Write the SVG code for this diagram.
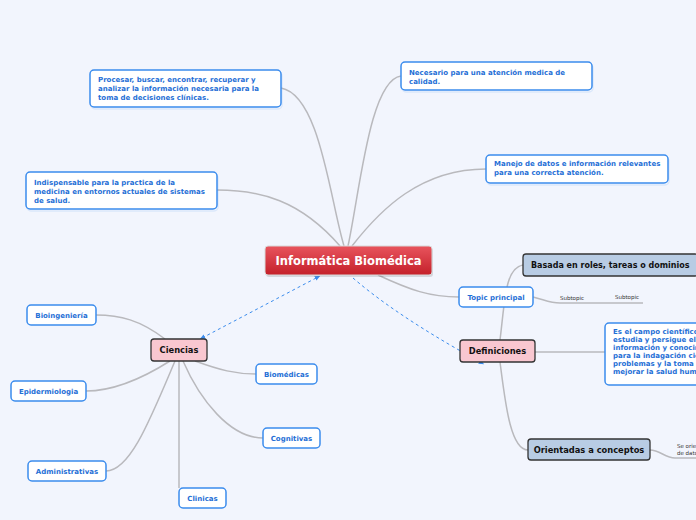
<svg xmlns="http://www.w3.org/2000/svg" width="696" height="520" viewBox="0 0 696 520">
<style>
.bg{fill:#f2f5fd}
.blue rect{fill:#fff;stroke:#3b8ced;stroke-width:1.5}
.blue text{font-family:"DejaVu Sans",Verdana,sans-serif;font-weight:bold;font-size:7px;fill:#1f6fd6}
.dark rect{stroke:#333;stroke-width:1.3}
.dark text{font-family:"DejaVu Sans",Verdana,sans-serif;font-weight:bold;font-size:8.3px;fill:#111}
.pink rect{fill:#f9c7d0}
.lav rect{fill:#b8cce4}
.sh{fill:#000;stroke:none;opacity:0.12}
.conn path{fill:none;stroke:#b9b9bd;stroke-width:1.5}
.dash path{fill:none;stroke:#3b8ced;stroke-width:1;stroke-dasharray:3 3}
.small{font-family:"DejaVu Sans",Verdana,sans-serif;font-size:5.5px;fill:#333}
</style>
<defs>
<linearGradient id="red" x1="0" y1="0" x2="0" y2="1">
<stop offset="0" stop-color="#e8545d"/>
<stop offset="1" stop-color="#c4202a"/>
</linearGradient>
<marker id="arr" viewBox="0 0 10 10" refX="5" refY="5" markerWidth="6" markerHeight="6" orient="auto-start-reverse">
<path d="M0,1 L9,5 L0,9 z" fill="#3b8ced"/>
</marker>
</defs>
<rect class="bg" x="0" y="0" width="696" height="520"/>

<g id="connectors">
<g class="conn">
<path d="M344,246 C330,200 320,95 281,88"/>
<path d="M348,246 C360,190 370,80 401,76"/>
<path d="M340,246 C300,200 260,190 217,190"/>
<path d="M352,246 C380,210 420,169 486,169"/>
<path d="M378,275 C410,290 430,297 459,297"/>
<path d="M533,297 C545,300 550,303 560,303 L643,303"/>
<path d="M500,340 C505,300 505,268 523,265"/>
<path d="M500,362 C505,400 510,450 528,450"/>
<path d="M535,352 C570,352 580,352 605,352"/>
<path d="M650,450 C660,450 665,458 675,458 L696,458"/>
<path d="M165,339 C140,320 120,315 96,315"/>
<path d="M170,361 C140,380 110,391 86,391"/>
<path d="M175,361 C150,420 130,471 106,471"/>
<path d="M179,361 L179,488"/>
<path d="M183,361 C200,400 230,438 263,438"/>
<path d="M195,361 C220,370 235,374 256,374"/>
</g>
<g class="dash">
<path d="M202,338 L318,277" marker-start="url(#arr)" marker-end="url(#arr)"/>
<path d="M353,278 C390,310 440,340 482,363" marker-end="url(#arr)"/>
</g>
</g>

<g id="central">
<rect x="266" y="248" width="167" height="29" rx="3" class="sh"/>
<rect x="265" y="246" width="167" height="29" rx="3" fill="url(#red)" stroke="#d8d8d8" stroke-width="1"/>
<text x="348.5" y="265" text-anchor="middle" font-family="DejaVu Sans,Verdana,sans-serif" font-weight="bold" font-size="11.5" fill="#fff">Informática Biomédica</text>
</g>

<g id="procesar" class="blue">
<rect x="91" y="72" width="191" height="37" rx="4" class="sh"/>
<rect x="90" y="70" width="191" height="37" rx="4"/>
<text x="98" y="82">Procesar, buscar, encontrar, recuperar y</text>
<text x="98" y="91">analizar la información necesaria para la</text>
<text x="98" y="100">toma de decisiones clínicas.</text>
</g>

<g id="necesario" class="blue">
<rect x="402" y="64" width="191" height="28" rx="4" class="sh"/>
<rect x="401" y="62" width="191" height="28" rx="4"/>
<text x="409" y="74.5">Necesario para una atención medica de</text>
<text x="409" y="83.5">calidad.</text>
</g>

<g id="indispensable" class="blue">
<rect x="27" y="174" width="191" height="37" rx="4" class="sh"/>
<rect x="26" y="172" width="191" height="37" rx="4"/>
<text x="34" y="184.5">Indispensable para la practica de la</text>
<text x="34" y="193.5">medicina en entornos actuales de sistemas</text>
<text x="34" y="202.5">de salud.</text>
</g>

<g id="manejo" class="blue">
<rect x="487" y="157" width="182" height="28" rx="4" class="sh"/>
<rect x="486" y="155" width="182" height="28" rx="4"/>
<text x="494" y="166">Manejo de datos e información relevantes</text>
<text x="494" y="175">para una correcta atención.</text>
</g>

<g id="topic" class="blue">
<rect x="459" y="287" width="74" height="20" rx="4"/>
<text x="496" y="300" text-anchor="middle">Topic principal</text>
</g>

<g id="subtopics">
<text class="small" x="560" y="300">Subtopic</text>
<text class="small" x="615" y="299">Subtopic</text>
</g>

<g id="basada" class="dark lav">
<rect x="523" y="254" width="175" height="22" rx="3"/>
<text x="531" y="268" style="font-size:8px">Basada en roles, tareas o dominios</text>
</g>

<g id="definiciones" class="dark pink">
<rect x="460" y="340" width="75" height="22" rx="3"/>
<text x="497.5" y="354" text-anchor="middle">Definiciones</text>
</g>

<g id="campo" class="blue">
<rect x="605" y="323" width="100" height="62" rx="4"/>
<text x="613" y="334">Es el campo científico que</text>
<text x="613" y="342">estudia y persigue el uso de</text>
<text x="613" y="350">información y conocimiento</text>
<text x="613" y="358">para la indagación científica,</text>
<text x="613" y="366">problemas y la toma de decisiones</text>
<text x="613" y="374">mejorar la salud humana.</text>
</g>

<g id="orientadas" class="dark lav">
<rect x="528" y="439" width="122" height="21" rx="3"/>
<text x="589" y="452.5" text-anchor="middle">Orientadas a conceptos</text>
</g>

<g id="seori">
<text class="small" x="677" y="448">Se orientan</text>
<text class="small" x="677" y="455">de datos</text>
</g>

<g id="ciencias" class="dark pink">
<rect x="151" y="339" width="56" height="22" rx="3"/>
<text x="179" y="353" text-anchor="middle">Ciencias</text>
</g>

<g id="bioingenieria" class="blue">
<rect x="27" y="305" width="69" height="20" rx="4"/>
<text x="61.5" y="318" text-anchor="middle">Bioingeniería</text>
</g>

<g id="epidermiologia" class="blue">
<rect x="11" y="381" width="75" height="20" rx="4"/>
<text x="48.5" y="394" text-anchor="middle">Epidermiologia</text>
</g>

<g id="administrativas" class="blue">
<rect x="28" y="461" width="78" height="20" rx="4"/>
<text x="67" y="474" text-anchor="middle">Administrativas</text>
</g>

<g id="clinicas" class="blue">
<rect x="179" y="488" width="47" height="20" rx="4"/>
<text x="202.5" y="501" text-anchor="middle">Clinicas</text>
</g>

<g id="cognitivas" class="blue">
<rect x="263" y="428" width="57" height="20" rx="4"/>
<text x="291.5" y="441" text-anchor="middle">Cognitivas</text>
</g>

<g id="biomedicas" class="blue">
<rect x="256" y="364" width="61" height="20" rx="4"/>
<text x="286.5" y="377" text-anchor="middle">Biomédicas</text>
</g>
</svg>
